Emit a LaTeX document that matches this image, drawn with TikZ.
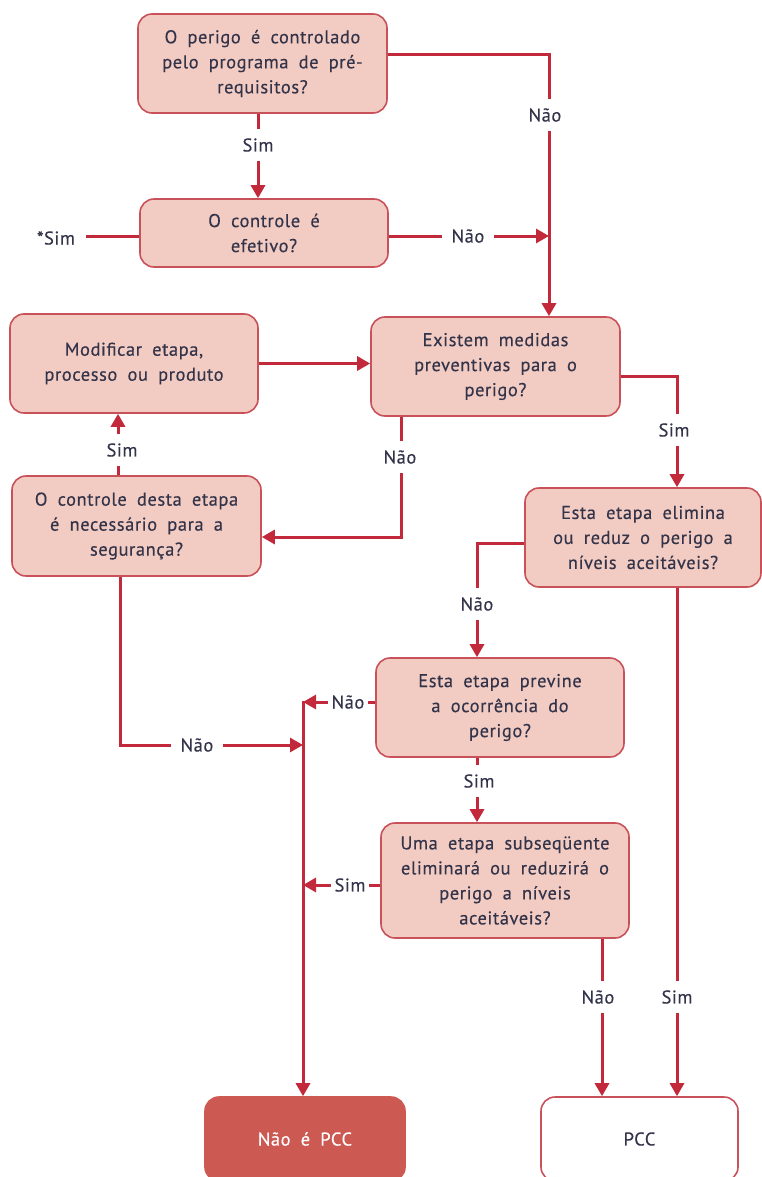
\documentclass[tikz,border=0pt]{standalone}
\usepackage{fontspec}
\setmainfont{PT Sans}[LetterSpace=3, FakeBold=0.3]
\usetikzlibrary{arrows.meta}
\definecolor{boxfill}{HTML}{F2CCC2}
\definecolor{boxline}{HTML}{C9525A}
\definecolor{linkred}{HTML}{C22A3C}
\definecolor{ink}{HTML}{33334A}
\definecolor{endfill}{HTML}{CD5A52}
\newcommand{\boxfont}{\fontsize{18.5}{25}\selectfont\spaceskip=0.55em plus 0.1em\relax}
\tikzset{
  question/.style={draw=boxline, fill=boxfill, line width=1.6pt, rounded corners=14pt,
    align=center, text=ink, inner sep=0pt, font=\boxfont},
  nopcc/.style={question, fill=endfill, draw=endfill, text=white},
  ispcc/.style={question, fill=white},
  link/.style={draw=linkred, line width=3pt},
  arrowlink/.style={link, -{Triangle[length=13pt,width=14pt]}},
  answer/.style={fill=white, text=ink, inner xsep=5pt, inner ysep=9pt,
    font=\fontsize{18.5}{20}\selectfont}
}
\begin{document}
\begin{tikzpicture}[x=1pt,y=-1pt]
\clip (0,0) rectangle (762,1177);
\fill[white] (0,0) rectangle (762,1177);

% decision boxes
\node[question, minimum width=249pt, minimum height=99pt] (q1) at (262.5,63.5)
  {O perigo é controlado\\pelo programa de pré-\\requisitos?};
\node[question, minimum width=248pt, minimum height=68pt] (q2) at (264,233)
  {O controle é\\efetivo?};
\node[question, minimum width=248pt, minimum height=99pt] (q3) at (134,363.5)
  {Modificar etapa,\\processo ou produto};
\node[question, minimum width=249pt, minimum height=99pt] (q4) at (495.5,366.5)
  {Existem medidas\\preventivas para o\\perigo?};
\node[question, minimum width=249pt, minimum height=100pt] (q5) at (136.5,526)
  {O controle desta etapa\\é necessário para a\\segurança?};
\node[question, minimum width=236pt, minimum height=99pt] (q6) at (643,537.5)
  {Esta etapa elimina\\ou reduz o perigo a\\níveis aceitáveis?};
\node[question, minimum width=248pt, minimum height=99pt] (q7) at (500,707.5)
  {Esta etapa previne\\a ocorrência do\\perigo?};
\node[question, minimum width=248pt, minimum height=115pt] (q8) at (505,880.5)
  {Uma etapa subseqüente\\eliminará ou reduzirá o\\perigo a níveis\\aceitáveis?};

% outcomes
\node[nopcc, minimum width=200pt, minimum height=84pt] (q9) at (305,1139) {Não é PCC};
\node[ispcc, minimum width=197pt, minimum height=84pt] (q10) at (639.5,1139) {PCC};

% junction points of the connectors
\coordinate (topR) at (549,55);
\coordinate (midR) at (549,236);
\coordinate (noA) at (401,537);
\coordinate (simB) at (677,376);
\coordinate (noB) at (477,543);
\coordinate (noC) at (120,745);
\coordinate (trunk) at (303,745);
\coordinate (trunkTop) at (303,700.5);

% connectors
\draw[arrowlink] (q1.east |- topR) -- (topR) -- (q4.north -| topR);
\node[answer] at (545,115) {Não};

\draw[arrowlink] (q1.south -| 258,0) -- (q2.north -| 258,0);
\node[answer] at (258,145) {Sim};

\draw[arrowlink] (q2.east |- midR) -- (midR);
\node[answer, inner xsep=10pt] at (468,236) {Não};

\node[text=ink, font=\fontsize{18.5}{20}\selectfont, inner sep=0pt] (ast) at (56,238) {*Sim};
\draw[link] (q2.west |- midR) -- ([xshift=11pt]ast.east |- midR);

\draw[arrowlink] (q3.east) -- (q4.west |- q3.east);

\draw[arrowlink] (q4.south -| noA) -- (noA) -- (q5.east |- noA);
\node[answer] at (400,457) {Não};

\draw[arrowlink] (q5.north -| 118,0) -- (q3.south -| 118,0);
\node[answer] at (122,450) {Sim};

\draw[arrowlink] (q4.east |- simB) -- (simB) -- (q6.north -| simB);
\node[answer] at (674,430) {Sim};

\draw[arrowlink] (q6.west |- noB) -- (noB) -- (q7.north -| noB);
\node[answer] at (477,604) {Não};

\draw[arrowlink] (q6.south -| simB) -- (q10.north -| simB);
\node[answer] at (677,997) {Sim};

\draw[arrowlink] (q5.south -| noC) -- (noC) -- (trunk);
\node[answer, inner xsep=10pt] at (197,745) {Não};

\draw[arrowlink] (trunkTop) -- (q9.north -| trunkTop);

\draw[arrowlink] (q7.west |- 0,702) -- (303,702);
\node[answer, inner xsep=4pt] at (348,702) {Não};

\draw[arrowlink] (q7.south -| noB) -- (q8.north -| noB);
\node[answer] at (479,781) {Sim};

\draw[arrowlink] (q8.west |- 0,885) -- (303,885);
\node[answer, inner xsep=4pt] at (350,885) {Sim};

\draw[arrowlink] (q8.south -| 602,0) -- (q10.north -| 602,0);
\node[answer] at (598,997) {Não};
\end{tikzpicture}
\end{document}
